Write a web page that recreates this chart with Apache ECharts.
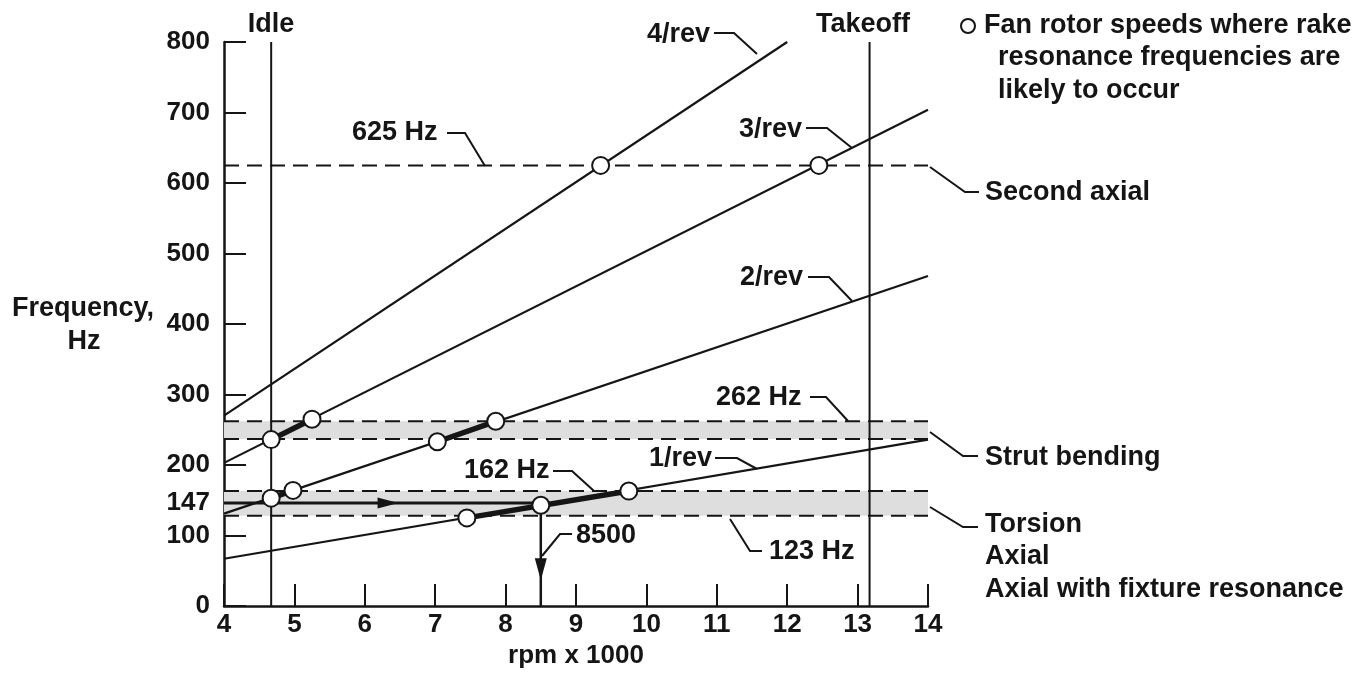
<!DOCTYPE html>
<html>
<head>
<meta charset="utf-8">
<script src="https://cdn.jsdelivr.net/npm/echarts@6/dist/echarts.min.js"></script>
<style>
html,body{margin:0;padding:0;background:#fff;}
#c{width:1369px;height:674px;}
</style>
</head>
<body>
<div id="c"></div>
<script>
// ---- data ----
const yLabelValues = [0, 100, 147, 200, 300, 400, 500, 600, 700, 800];
const yTickValues = [0, 100, 200, 300, 400, 500, 600, 700, 800];
const rev1 = [[4, 67], [14, 236]];
const rev2 = [[4, 131], [14, 468]];
const rev3 = [[4, 203], [14, 704]];
const rev4 = [[4, 270], [12, 800]];
const idleRpm = 4.67;
const takeoffRpm = 13.17;
const secondAxialHz = 625;
const strutBand = [237, 262];
const torsionBand = [128, 163];
const resonancePoints = [
  [4.67, 236], [5.25, 265], [7.03, 233], [7.86, 262],
  [4.67, 153], [4.98, 164], [7.45, 125], [8.5, 143], [9.75, 163],
  [9.35, 625], [12.45, 625]
];
const thickSegments = [
  [[4.67, 236], [5.25, 265]],
  [[7.03, 233], [7.86, 262]],
  [[4.67, 153], [4.98, 164]],
  [[7.45, 125], [9.75, 163]]
];
const arrowH = [[4, 146], [8.5, 146]];
const arrowHHead = [[6.33, 146]];
const arrowV = [[8.5, 143], [8.5, 0]];
const arrowVHead = [[8.5, 52]];

// ---- chart ----
const INK = '#151515';
const FONT = '"Liberation Sans", Arial, Helvetica, sans-serif';
const chart = echarts.init(document.getElementById('c'));

function lineSeries(data, width, dash, z) {
  return {
    type: 'line', data: data, symbol: 'none', silent: true, animation: false,
    lineStyle: { color: INK, width: width, type: dash || 'solid' }, z: z || 3
  };
}
function hLine(y) { return [[4, y], [14, y]]; }
const dash = [15, 8];

const series = [
  {
    type: 'line', data: [], silent: true, z: 1,
    markArea: {
      silent: true,
      itemStyle: { color: '#dedede' },
      data: [
        [{ yAxis: strutBand[0] }, { yAxis: strutBand[1] }],
        [{ yAxis: torsionBand[0] }, { yAxis: torsionBand[1] }]
      ]
    }
  },
  lineSeries(hLine(strutBand[0]), 2, dash, 2),
  lineSeries(hLine(strutBand[1]), 2, dash, 2),
  lineSeries(hLine(torsionBand[0]), 2, dash, 2),
  lineSeries(hLine(torsionBand[1]), 2, dash, 2),
  lineSeries(hLine(secondAxialHz), 2, dash, 2),
  lineSeries([[idleRpm, 0], [idleRpm, 800]], 2, null, 3),
  lineSeries([[takeoffRpm, 0], [takeoffRpm, 800]], 2, null, 3),
  lineSeries(rev1, 2.2, null, 3),
  lineSeries(rev2, 2.2, null, 3),
  lineSeries(rev3, 2.2, null, 3),
  lineSeries(rev4, 2.2, null, 3),
  lineSeries(arrowH, 3, null, 4),
  lineSeries(arrowV, 2.5, null, 4)
];
thickSegments.forEach(s => series.push(lineSeries(s, 5.5, null, 5)));
series.push({
  type: 'scatter', data: arrowHHead, symbol: 'triangle', symbolSize: [11, 21],
  symbolRotate: -90, itemStyle: { color: INK, opacity: 1 }, z: 6, silent: true, animation: false
});
series.push({
  type: 'scatter', data: arrowVHead, symbol: 'triangle', symbolSize: [12, 22],
  symbolRotate: 180, itemStyle: { color: INK, opacity: 1 }, z: 6, silent: true, animation: false
});
series.push({
  type: 'scatter', data: resonancePoints, symbol: 'circle', symbolSize: 17,
  itemStyle: { color: '#ffffff', borderColor: INK, borderWidth: 2, opacity: 1 }, z: 8,
  silent: true, animation: false
});

const txt = (text, x, y, align) => ({
  type: 'text', x: x, y: y, z: 100, silent: true,
  style: { text: text, font: 'bold 27px ' + FONT, fill: INK, align: align || 'left', verticalAlign: 'middle' }
});
const lead = (pts) => ({
  type: 'polyline', z: 100, silent: true, shape: { points: pts },
  style: { stroke: INK, lineWidth: 2, fill: null }
});

const graphic = [
  txt('Idle', 271, 25, 'center'),
  txt('Takeoff', 863, 25, 'center'),
  txt('4/rev', 647, 35), lead([[714, 33], [734, 33], [757, 54]]),
  txt('3/rev', 739, 130), lead([[806, 128], [827, 128], [852, 148]]),
  txt('2/rev', 740, 278), lead([[808, 277], [829, 277], [852, 301]]),
  txt('1/rev', 649, 459), lead([[715, 458], [737, 458], [757, 469]]),
  txt('625 Hz', 352, 133), lead([[447, 133], [465, 133], [485, 166]]),
  txt('262 Hz', 716, 398), lead([[810, 397], [826, 397], [848, 421]]),
  txt('162 Hz', 464, 471), lead([[553, 471], [572, 471], [594, 491]]),
  txt('8500', 576, 536), lead([[572, 534], [560, 534], [542, 556]]),
  txt('123 Hz', 769, 552), lead([[762, 551], [750, 551], [730, 519]]),
  txt('Second axial', 985, 193), lead([[930, 167], [965, 192], [979, 192]]),
  txt('Strut bending', 985, 458), lead([[930, 432], [963, 456], [978, 456]]),
  txt('Torsion', 985, 525), lead([[930, 507], [963, 527], [978, 527]]),
  txt('Axial', 985, 557),
  txt('Axial with fixture resonance', 985, 590),
  { type: 'circle', z: 100, silent: true, shape: { cx: 968, cy: 26, r: 7 }, style: { fill: '#fff', stroke: INK, lineWidth: 2 } },
  txt('Fan rotor speeds where rake', 984, 26),
  txt('resonance frequencies are', 998, 58),
  txt('likely to occur', 998, 91),
  txt('Frequency,', 12, 309),
  txt('Hz', 84, 342, 'center')
];

chart.setOption({
  animation: false,
  backgroundColor: '#fff',
  grid: { left: 224, right: 441, top: 42, bottom: 68, containLabel: false, outerBoundsMode: 'none' },
  xAxis: {
    type: 'value', min: 4, max: 14, interval: 1,
    name: 'rpm x 1000', nameLocation: 'middle', nameGap: 37,
    nameTextStyle: { fontSize: 26, fontWeight: 'bold', color: INK, fontFamily: FONT },
    axisLine: { show: true, lineStyle: { color: INK, width: 2.5 } },
    axisTick: { show: true, inside: true, length: 22, lineStyle: { color: INK, width: 2 } },
    axisLabel: { fontSize: 26, fontWeight: 'bold', color: INK, fontFamily: FONT, margin: 6 },
    splitLine: { show: false }
  },
  yAxis: {
    type: 'value', min: 0, max: 800, interval: 100,
    axisLine: { show: true, lineStyle: { color: INK, width: 2.5 } },
    axisTick: { show: true, inside: true, length: 22, customValues: yTickValues, lineStyle: { color: INK, width: 2 } },
    axisLabel: { fontSize: 26, fontWeight: 'bold', color: INK, fontFamily: FONT, margin: 14, padding: [6, 0, 0, 0], customValues: yLabelValues },
    splitLine: { show: false }
  },
  series: series,
  graphic: graphic
});
</script>
</body>
</html>
